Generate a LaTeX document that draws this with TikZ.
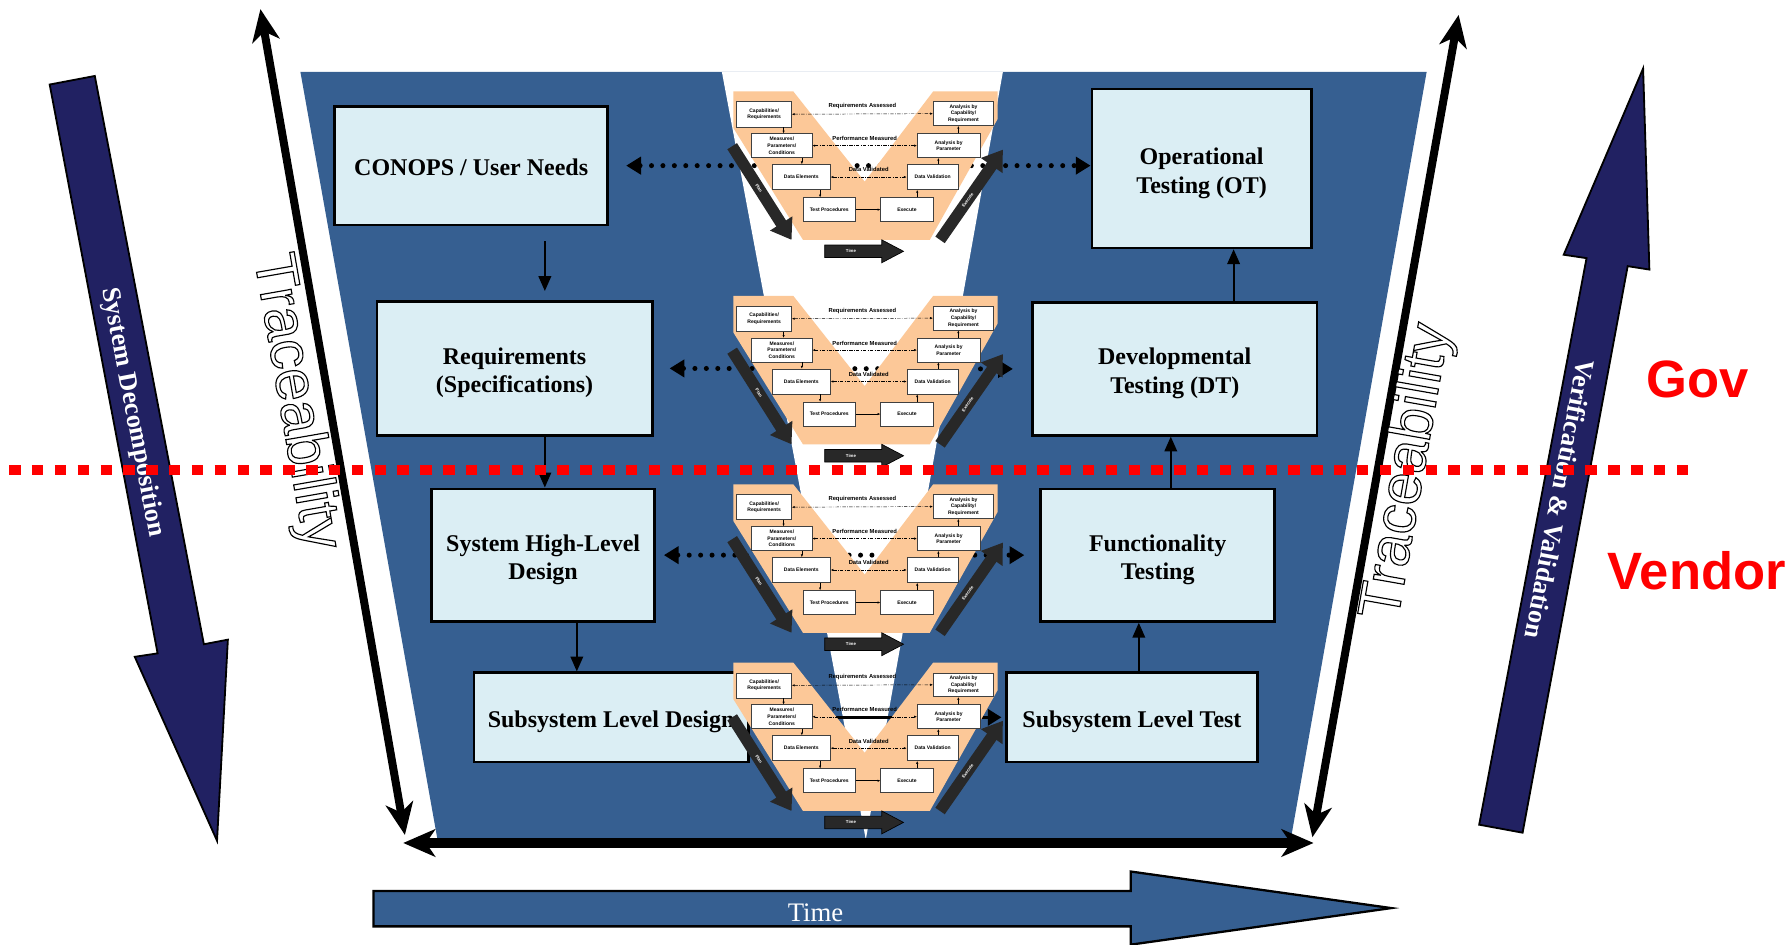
\documentclass[tikz,border=0pt]{standalone}
\usepackage{fontspec}
\setmainfont{Liberation Serif}
\setsansfont{Liberation Sans}
\usetikzlibrary{arrows.meta}

\definecolor{vblue}{RGB}{54,95,145}
\definecolor{stagefill}{RGB}{219,238,244}
\definecolor{navy}{RGB}{33,33,98}
\definecolor{peach}{RGB}{252,200,152}
\definecolor{steparrow}{RGB}{40,40,40}

% white letters with a black outline
\newcommand{\outlinetext}[1]{\special{pdf:literal direct 2 Tr 0.5 w 0 G}#1\special{pdf:literal direct 0 Tr}}
% stage text sits a little below the box centre
\newcommand{\stagetext}[1]{\raisebox{-2pt}[\height][\depth]{\begin{tabular}{@{}c@{}}#1\end{tabular}}}

\tikzset{
  stage/.style={draw, line width=1.2pt, fill=stagefill, inner sep=0pt,
    font=\fontsize{10.5}{12.5}\selectfont\bfseries},
  flow/.style={line width=.8pt, -{Triangle[length=6.5pt,width=5.5pt]}},
  link/.style={line width=2.2pt, line cap=round, dash pattern=on 0pt off 5pt,
    {Triangle[length=6.5pt,width=7.5pt]}-{Triangle[length=6.5pt,width=7.5pt]}},
  trace/.style={line width=3.5pt,
    {Stealth[length=14pt,width=12pt,inset=4pt]}-{Stealth[length=14pt,width=12pt,inset=4pt]}},
  bigarrow/.style={draw=black, line width=.8pt, fill=navy},
  bigtext/.style={text=white, font=\fontsize{11.5}{13}\selectfont\bfseries},
  tracetext/.style={text=white, font=\fontsize{25.8}{28}\selectfont\sffamily},
  party/.style={text=red, font=\fontsize{23}{25}\selectfont\sffamily\bfseries},
  vbox/.style={draw=black!75, line width=.25pt, fill=white, align=center, inner sep=0pt,
    font=\fontsize{2.2}{2.9}\selectfont\sffamily\bfseries},
  vlink/.style={line width=.2pt, dash pattern=on 1.5pt off .6pt on .3pt off .6pt,
    {Latex[length=1.2pt,width=1pt]}-{Latex[length=1.2pt,width=1pt]}},
  vflow/.style={line width=.2pt, -{Latex[length=1.2pt,width=1pt]}},
  vlabel/.style={font=\fontsize{2.55}{3}\selectfont\sffamily\bfseries, inner sep=.6pt},
  phase/.style={line width=5pt, steparrow, -{Triangle[length=8.5pt,width=11pt]}},
  phaselabel/.style={text=white, font=\fontsize{1.9}{2}\selectfont\sffamily\bfseries, inner sep=0pt},
}

\begin{document}
\begin{tikzpicture}[x=0.5pt,y=-0.5pt]
  \useasboundingbox (0,0) rectangle (1568,826.5);

  % background V
  \fill[vblue] (263,63) -- (1249,63) -- (1130,735) -- (383,735) -- cycle;
  \fill[white] (632,63) -- (878,63) -- (758,735) -- cycle;

  % decomposition and V&V arrows
  \filldraw[bigarrow] (43.5,74) -- (83,66.5) -- (178.5,564) -- (199.5,560) -- (190,736) -- (118,575) -- (138,572) -- cycle;
  \node[bigtext, rotate=-79.2] (decomp) at (116,361) {System Decomposition};
  \filldraw[bigarrow] (1295,722) -- (1389,226) -- (1369,223) -- (1438.5,60) -- (1444,236) -- (1425,233) -- (1333,729) -- cycle;
  \node[bigtext, rotate=-100.7] (vandv) at (1366,437) {Verification \& Validation};

  % traceability
  \coordinate (tracetopl) at (228,8);
  \coordinate (tracebotl) at (354.5,731);
  \coordinate (tracetopr) at (1277,13);
  \coordinate (tracebotr) at (1149,733);
  \coordinate (timeleft) at (353,738);
  \coordinate (timeright) at (1150,738);
  \draw[trace] (tracetopl) -- (tracebotl);
  \draw[trace] (tracetopr) -- (tracebotr);
  \draw[trace, line width=4.5pt] (timeleft) -- (timeright);
  \node[tracetext, rotate=-80.1] (tracel) at (258,352) {\outlinetext{Traceability}};
  \node[tracetext, rotate=80] (tracer) at (1233,413) {\outlinetext{Traceability}};

  % stages
  \node[stage, minimum width=119.5pt, minimum height=52pt] (conops) at (412.5,145) {\stagetext{CONOPS / User Needs}};
  \node[stage, minimum width=120.5pt, minimum height=58.5pt] (req) at (450.5,322.5) {\stagetext{Requirements\\(Specifications)}};
  \node[stage, minimum width=97.5pt, minimum height=58pt] (shld) at (475.5,486) {\stagetext{System High-Level\\Design}};
  \node[stage, minimum width=120pt, minimum height=39pt] (ssd) at (535,628) {\stagetext{Subsystem Level Design}};
  \node[stage, minimum width=96pt, minimum height=69.5pt] (ot) at (1052,147.5) {\stagetext{Operational\\Testing (OT)}};
  \node[stage, minimum width=124.5pt, minimum height=58pt] (dt) at (1028.5,323) {\stagetext{Developmental\\Testing (DT)}};
  \node[stage, minimum width=102.5pt, minimum height=58pt] (ftest) at (1013.5,486) {\stagetext{Functionality\\Testing}};
  \node[stage, minimum width=110pt, minimum height=39pt] (sst) at (991,628) {\stagetext{Subsystem Level Test}};

  \draw[flow, shorten <=6.5pt, shorten >=4pt] ([xshift=32.25pt]conops.south) -- ([xshift=13.25pt]req.north);
  \draw[flow] ([xshift=13.25pt]req.south) -- ([xshift=.75pt]shld.north);
  \draw[flow] ([xshift=14.75pt]shld.south) -- ([xshift=-15pt]ssd.north);
  \draw[flow] ([xshift=3pt]sst.north) -- ([xshift=-8.25pt]ftest.south);
  \draw[flow] ([xshift=5.75pt]ftest.north) -- ([xshift=-1.75pt]dt.south);
  \draw[flow] ([xshift=25.75pt]dt.north) -- ([xshift=14pt]ot.south);

  \draw[link, shorten <=7.5pt] (conops.east) -- (conops.east -| ot.west);
  \draw[link, shorten <=7pt, shorten >=8pt] (req.east) -- (dt.west);
  \draw[link, shorten <=3.5pt, shorten >=6.5pt] (shld.east) -- (ftest.west);
  \draw[line width=1.5pt, -{Triangle[length=6pt,width=7pt]}, shorten >=1.5pt] (ssd.east) -- (sst.west);

  % small test V per level
  \foreach \vy [count=\i] in {80,259,424,580}{
    \begin{scope}[shift={(642,\vy)}]
      \fill[peach] (0,0) -- (52.5,0) -- (115,79) -- (175,0) -- (231.5,0) -- (231.5,24) -- (172,130) -- (61,130) -- (0,32) -- cycle;
      \node[vbox, minimum width=24pt, minimum height=11pt] (cap\i) at (27,20) {Capabilities/\\Requirements};
      \node[vbox, minimum width=26.5pt, minimum height=10.5pt] (meas\i) at (42.5,47.5) {Measures/\\Parameters/\\Conditions};
      \node[vbox, minimum width=25.5pt, minimum height=11pt] (elem\i) at (59.5,75) {Data Elements};
      \node[vbox, minimum width=23pt, minimum height=10.5pt] (proc\i) at (84,103.5) {Test Procedures};
      \node[vbox, minimum width=23pt, minimum height=10.5pt] (exec\i) at (152,103.5) {Execute};
      \node[vbox, minimum width=22.5pt, minimum height=11pt] (valid\i) at (174.5,75) {Data Validation};
      \node[vbox, minimum width=27.5pt, minimum height=10.5pt] (apar\i) at (188.5,47.5) {Analysis by\\Parameter};
      \node[vbox, minimum width=26.5pt, minimum height=10.5pt] (acap\i) at (201.5,19.5) {Analysis by\\Capability/\\Requirement};
      \draw[vflow] ([xshift=8.5pt]cap\i.south) -- ([xshift=.75pt]meas\i.north);
      \draw[vflow] ([xshift=8.75pt]meas\i.south) -- ([xshift=.25pt]elem\i.north);
      \draw[vflow] ([xshift=8.25pt]elem\i.south) -- ([xshift=-4pt]proc\i.north);
      \draw[vflow] (proc\i.east) -- (exec\i.west);
      \draw[vflow] ([xshift=4.5pt]exec\i.north) -- ([xshift=-6.75pt]valid\i.south);
      \draw[vflow] ([xshift=2.5pt]valid\i.north) -- ([xshift=-4.5pt]apar\i.south);
      \draw[vflow] ([xshift=4.25pt]apar\i.north) -- ([xshift=-2.25pt]acap\i.south);
      \draw[vlink] (cap\i.east) -- node[vlabel, above=1.5pt] (ra\i) {Requirements Assessed} (acap\i.west);
      \draw[vlink] (meas\i.east) -- node[vlabel, above=1.5pt] (pm\i) {Performance Measured} (apar\i.west);
      \draw[vlink] (elem\i.east) -- node[vlabel, above=1.5pt] (dv\i) {Data Validated} (valid\i.west);
      \draw[phase] (-1,48) -- node[phaselabel, sloped, pos=.45] (plan\i) {Plan} (51,130);
      \draw[phase] (181,130) -- node[phaselabel, sloped, pos=.44] (exe\i) {Execute} (236,51);
      \filldraw[fill=steparrow, draw=black, line width=.3pt] (80,134.5) -- (130,134.5) -- (130,130) -- (149,140) -- (130,150) -- (130,145.5) -- (80,145.5) -- cycle;
      \node[phaselabel] (tm\i) at (103,140) {Time};
    \end{scope}
  }

  % time arrow
  \filldraw[draw=black, line width=1pt, fill=vblue] (327,780) -- (990,780) -- (990,763) -- (1218,795) -- (990,827) -- (990,811) -- (327,811) -- cycle;
  \node[text=white, font=\fontsize{11.7}{13}\selectfont] (time) at (714,799) {Time};

  \node[party] (gov) at (1486,332) {Gov};
  \node[party] (vendor) at (1485.5,500) {Vendor};

  % gov / vendor split
  \draw[red, line width=4.5pt, dash pattern=on 5pt off 5pt] (8,411.5) -- (1484,411.5);
\end{tikzpicture}
\end{document}
